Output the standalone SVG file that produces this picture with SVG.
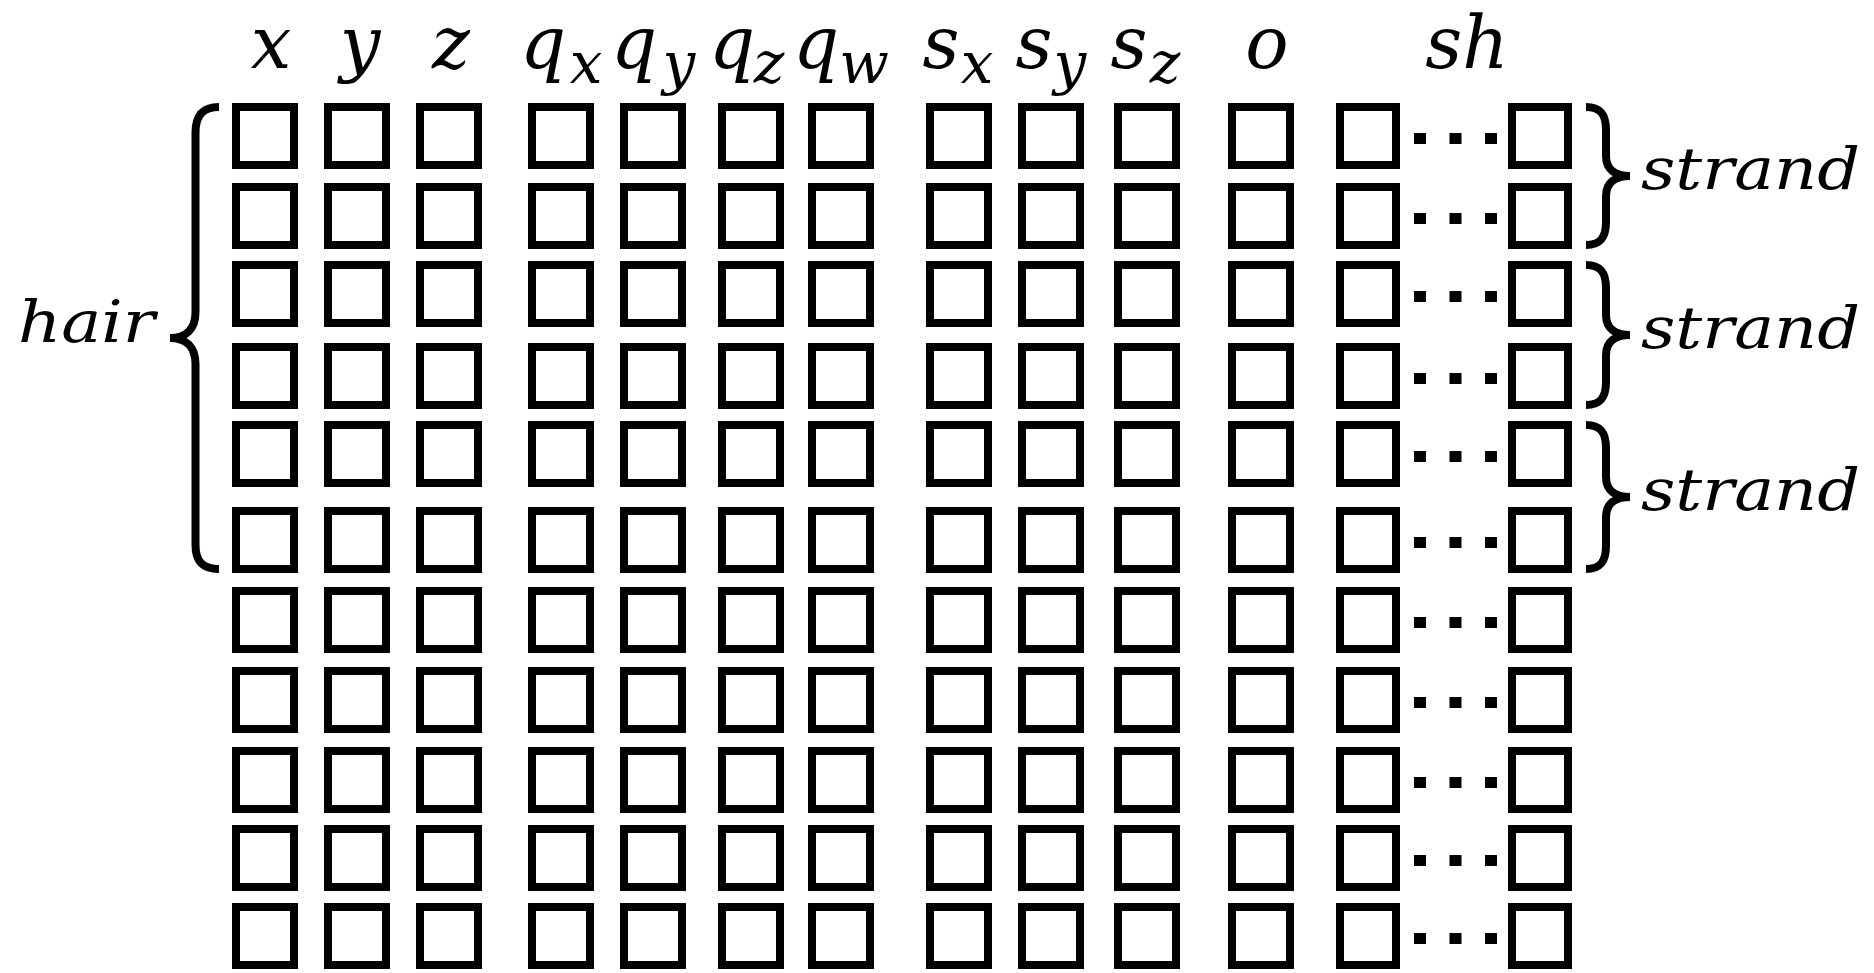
<svg xmlns="http://www.w3.org/2000/svg" xmlns:xlink="http://www.w3.org/1999/xlink" width="1874" height="973" viewBox="0 0 1874 973">
<style>
.box{fill:none;stroke:#000;stroke-width:8}
.dot{fill:#000}
.brace{fill:none;stroke:#000;stroke-width:8;stroke-linejoin:miter;stroke-miterlimit:10}
.lbl{font-family:"DejaVu Serif","Liberation Serif",serif;font-style:italic;fill:#000}
.hd{font-size:72px;text-anchor:middle}
.sub{font-size:58px;text-anchor:middle}
.side{font-size:57px}
</style>
<defs>
<g id="rowTpl">
<rect class="box" x="236" y="4" width="58" height="58"/>
<rect class="box" x="328" y="4" width="58" height="58"/>
<rect class="box" x="420" y="4" width="58" height="58"/>
<rect class="box" x="532" y="4" width="58" height="58"/>
<rect class="box" x="624" y="4" width="58" height="58"/>
<rect class="box" x="722" y="4" width="58" height="58"/>
<rect class="box" x="812" y="4" width="58" height="58"/>
<rect class="box" x="930" y="4" width="58" height="58"/>
<rect class="box" x="1022" y="4" width="58" height="58"/>
<rect class="box" x="1118" y="4" width="58" height="58"/>
<rect class="box" x="1232" y="4" width="58" height="58"/>
<rect class="box" x="1340" y="4" width="56" height="58"/>
<rect class="dot" x="1414" y="30" width="12" height="11"/>
<rect class="dot" x="1449.5" y="30" width="12" height="11"/>
<rect class="dot" x="1485" y="30" width="12" height="11"/>
<rect class="box" x="1512" y="4" width="56" height="58"/>
</g>
</defs>
<rect width="1874" height="973" fill="#fff"/>

<g id="headers" class="lbl">
<text class="hd" x="271" y="68">x</text>
<text class="hd" x="360" y="68">y</text>
<text class="hd" x="451" y="68">z</text>
<text class="hd" x="543" y="68">q</text><text class="sub" x="586" y="83">x</text>
<text class="hd" x="634" y="68">q</text><text class="sub" x="679" y="83">y</text>
<text class="hd" x="732" y="68">q</text><text class="sub" x="769" y="83">z</text>
<text class="hd" x="816" y="68">q</text><text class="sub" x="864" y="83">w</text>
<text class="hd" x="941" y="68">s</text><text class="sub" x="977" y="83">x</text>
<text class="hd" x="1034" y="68">s</text><text class="sub" x="1070" y="83">y</text>
<text class="hd" x="1129" y="68">s</text><text class="sub" x="1165" y="83">z</text>
<text class="hd" x="1267" y="68">o</text>
<text class="hd" x="1467" y="68">sh</text>
</g>

<g id="row1"><use xlink:href="#rowTpl" transform="translate(0,103)"/></g>
<g id="row2"><use xlink:href="#rowTpl" transform="translate(0,183)"/></g>
<g id="row3"><use xlink:href="#rowTpl" transform="translate(0,261)"/></g>
<g id="row4"><use xlink:href="#rowTpl" transform="translate(0,343)"/></g>
<g id="row5"><use xlink:href="#rowTpl" transform="translate(0,421)"/></g>
<g id="row6"><use xlink:href="#rowTpl" transform="translate(0,507)"/></g>
<g id="row7"><use xlink:href="#rowTpl" transform="translate(0,587)"/></g>
<g id="row8"><use xlink:href="#rowTpl" transform="translate(0,667)"/></g>
<g id="row9"><use xlink:href="#rowTpl" transform="translate(0,747)"/></g>
<g id="row10"><use xlink:href="#rowTpl" transform="translate(0,825)"/></g>
<g id="row11"><use xlink:href="#rowTpl" transform="translate(0,903)"/></g>

<g id="hair">
<path class="brace" d="M219,107 C203,107 195.5,115 195.5,133 L195.5,312 C195.5,329 186,338 170,338 C186,338 195.5,347 195.5,364 L195.5,545 C195.5,562 203,569 219,569"/>
<text class="lbl side" x="18" y="342" textLength="137" lengthAdjust="spacingAndGlyphs">hair</text>
</g>

<g id="strand1">
<path class="brace" d="M1586,107 C1600,107 1606,114 1606,130 L1606,156 C1606,170 1616,176 1630,176 C1616,176 1606,182 1606,196 L1606,222 C1606,238 1600,245 1586,245"/>
<text class="lbl side" x="1641" y="189" textLength="219" lengthAdjust="spacingAndGlyphs">strand</text>
</g>
<g id="strand2">
<path class="brace" d="M1586,265 C1600,265 1606,272 1606,288 L1606,315 C1606,329 1616,335 1630,335 C1616,335 1606,341 1606,355 L1606,382 C1606,398 1600,405 1586,405"/>
<text class="lbl side" x="1641" y="348" textLength="219" lengthAdjust="spacingAndGlyphs">strand</text>
</g>
<g id="strand3">
<path class="brace" d="M1586,425 C1600,425 1606,432 1606,448 L1606,477 C1606,491 1616,497 1630,497 C1616,497 1606,503 1606,517 L1606,546 C1606,562 1600,569 1586,569"/>
<text class="lbl side" x="1641" y="510" textLength="219" lengthAdjust="spacingAndGlyphs">strand</text>
</g>
<g id="connectors"/>
</svg>
